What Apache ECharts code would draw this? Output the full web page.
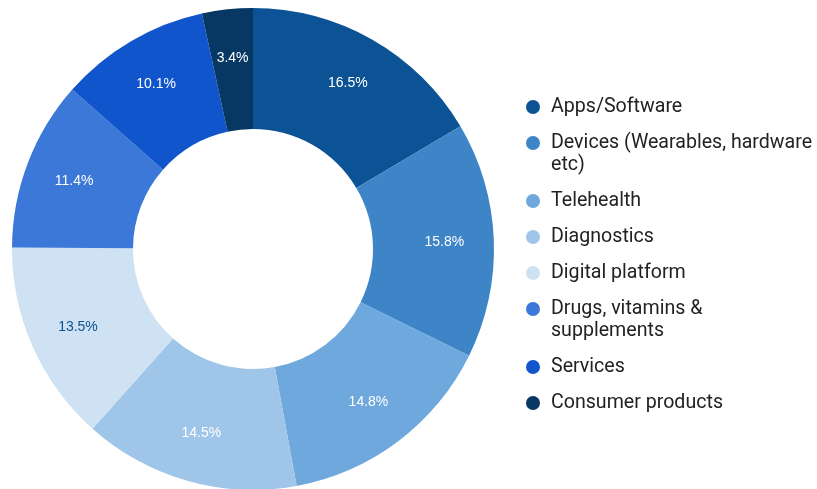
<!DOCTYPE html>
<html>
<head>
<meta charset="utf-8">
<script src="https://cdn.jsdelivr.net/npm/echarts@6/dist/echarts.min.js"></script>
<style>
  html, body { margin: 0; padding: 0; background: #fff; }
  #chart { width: 817px; height: 489px; }
</style>
</head>
<body>
<div id="chart"></div>
<script>
const categories = [
  'Apps/Software',
  'Devices (Wearables, hardware etc)',
  'Telehealth',
  'Diagnostics',
  'Digital platform',
  'Drugs, vitamins & supplements',
  'Services',
  'Consumer products'
]
// how each name wraps in the legend
const legendText = [
  'Apps/Software',
  'Devices (Wearables, hardware\netc)',
  'Telehealth',
  'Diagnostics',
  'Digital platform',
  'Drugs, vitamins &\nsupplements',
  'Services',
  'Consumer products'
]
const shares = [16.5, 15.8, 14.8, 14.5, 13.5, 11.4, 10.1, 3.4]

const colors = ['#0b5394', '#3d85c6', '#6fa8dc', '#9fc5e8', '#cfe2f3', '#3c78d8', '#1155cc', '#073763']
const labelColors = ['#fff', '#fff', '#fff', '#fff', '#0b5394', '#fff', '#fff', '#fff']

const chart = echarts.init(document.getElementById('chart'))

const pieData = categories.map((name, i) => ({
  name,
  value: shares[i],
  itemStyle: { color: colors[i] }
}))

const labelData = categories.map((name, i) => ({
  name,
  value: shares[i],
  label: { color: labelColors[i] }
}))

// one legend per entry so wrapped entries keep the dot on the first line
// (an empty leading line pushes the text block down by one line)
const LINE = 22
const GAP = 14
let y = 107
const legends = categories.map((name, i) => {
  const lines = legendText[i].split('\n').length
  const multi = lines > 1
  const top = multi ? y - 33 : y - 11
  y += lines * LINE + GAP
  return {
    data: [name],
    orient: 'vertical',
    left: 526,
    top,
    padding: 0,
    icon: 'circle',
    itemWidth: 26,
    itemHeight: 14,
    itemGap: 0,
    selectedMode: false,
    formatter: () => (multi ? '\n' : '') + legendText[i],
    textStyle: {
      fontFamily: 'Roboto',
      fontSize: 19.6,
      lineHeight: LINE,
      color: '#222'
    }
  }
})

chart.setOption({
  animation: false,
  legend: legends,
  series: [
    {
      name: 'share',
      type: 'pie',
      center: [253, 249],
      radius: [120, 241],
      startAngle: 90,
      label: { show: false },
      labelLine: { show: false },
      emphasis: { disabled: true },
      data: pieData
    },
    {
      // transparent ring that only carries the percent labels
      name: 'labels',
      type: 'pie',
      silent: true,
      center: [253, 249],
      radius: [136, 241],
      startAngle: 90,
      itemStyle: { color: 'rgba(0,0,0,0)' },
      label: {
        show: true,
        position: 'inside',
        fontFamily: 'Liberation Sans',
        fontSize: 14,
        formatter: p => p.value.toFixed(1) + '%'
      },
      labelLine: { show: false },
      emphasis: { disabled: true },
      data: labelData
    }
  ]
})
</script>
</body>
</html>
